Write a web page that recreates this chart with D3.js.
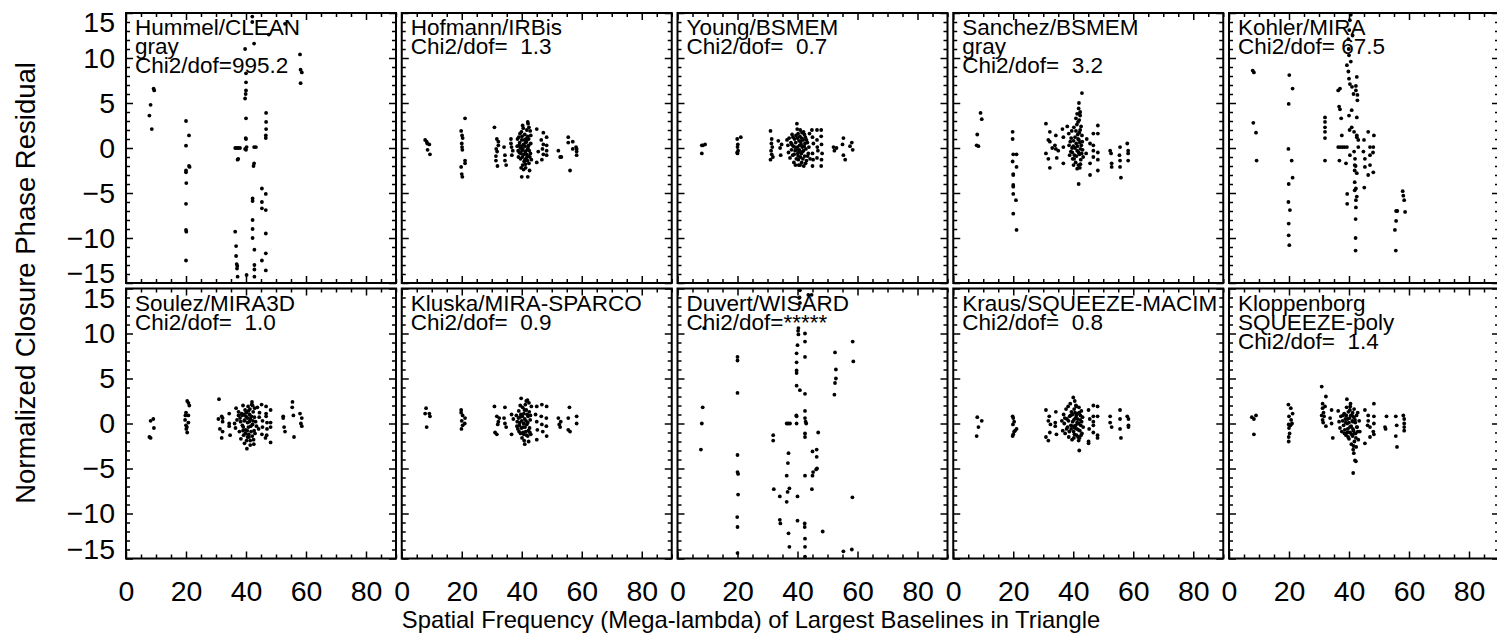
<!DOCTYPE html>
<html>
<head>
<meta charset="utf-8">
<script src="https://cdnjs.cloudflare.com/ajax/libs/d3/7.8.5/d3.min.js"></script>
<style>
  body { margin: 0; background: #fff; }
  svg { display: block; font-family: "Liberation Sans", Arial, Helvetica, sans-serif; }
  .lbl { white-space: pre; }
</style>
</head>
<body>
<svg width="1497" height="637"></svg>
<script>
// panel titles (one array entry per text line)
let panelLabels = [
    ['Hummel/CLEAN', 'gray', 'Chi2/dof=995.2'],
    ['Hofmann/IRBis', 'Chi2/dof=  1.3'],
    ['Young/BSMEM', 'Chi2/dof=  0.7'],
    ['Sanchez/BSMEM', 'gray', 'Chi2/dof=  3.2'],
    ['Kohler/MIRA', 'Chi2/dof= 67.5'],
    ['Soulez/MIRA3D', 'Chi2/dof=  1.0'],
    ['Kluska/MIRA-SPARCO', 'Chi2/dof=  0.9'],
    ['Duvert/WISARD', 'Chi2/dof=*****'],
    ['Kraus/SQUEEZE-MACIM', 'Chi2/dof=  0.8'],
    ['Kloppenborg', 'SQUEEZE-poly', 'Chi2/dof=  1.4']
];

let xTicks = [0, 20, 40, 60, 80];
let yTicks = [-15, -10, -5, 0, 5, 10, 15];

// [spatial frequency, normalized closure phase residual]
let hummelClean = [
    [8.2,4.8],[7.8,3.6],[8.6,2.1],[9.2,6.6],[9.4,6.4],
    [20,3.0],[21,1.4],[20,0.26],[21,-2.0],[21.2,-2.1],[20,-2.5],[20,-2.7],[20.1,-3.9],[20,-6.2],[20,-9.1],[20.1,-9.3],[20,-12.5],
    [36.4,0],[36.9,0],[37.4,0],[38,0],[37.4,-1.2],[37.2,-1.3],[36.4,-9.3],[36.7,-10.9],[36.7,-12],[36.9,-12.9],[37.1,-13.1],[37,-13.4],[37.2,-14.3],
    [39.7,11.0],[40,8.3],[40,7.3],[40,6.4],[39.9,6.0],[39.7,5.5],[40,3.3],[39.9,1.1],[40,1.0],[39.7,-0.1],[40,-0.2],[40.2,0.1],[40.2,-14.1],
    [42.1,14.6],[42.1,14.0],[42.7,11.6],[42.7,0.1],[43.3,0.1],[42.7,-1.7],[42.5,-2.0],[42.2,-5.6],[42.2,-5.9],[42.2,-8.0],[42.2,-9.0],[42.2,-10.0],[42.8,-11.3],[42.8,-13.0],[42.8,-13.5],[42.8,-14.3],
    [46.7,3.9],[46.7,2.9],[46.7,2.1],[46.6,1.4],[46.6,1.1],[45.3,-4.5],[46.6,-5.1],[45.3,-6.0],[46.6,-6.9],[45.3,-6.7],[46.6,-9.5],[46.6,-11.7],[45.3,-12.5],[46.6,-13.6],
    [47.6,12.6],[53,13.8],[58,10.4],[58.2,8.7],[58.6,8.4],[58.2,7.2]
];
let hofmannIrbis = [
    [7.8,0.9],[8.3,0.7],[9.2,0.4],[8.5,0.5],[8.6,-0.2],[9.4,-0.7],
    [21.1,3.3],[19.8,1.9],[20.1,1.4],[20.3,1.1],[20,0.5],[20.1,0.1],[20.2,-0.2],[21.1,-1.4],[21.1,-1.7],[19.8,-2.1],[20,-2.9],[20.2,-3.2],
    [30.9,2.3],[31.7,1.0],[32.2,0.7],[32.2,0.3],[31.5,-0.1],[31.8,-0.4],[31.4,-0.9],[31.4,-1.4],[31.9,-2.0],
    [34.1,0.1],[34.4,-0.8],[34.4,-1.4],[34.8,-1.9],
    [36.4,1.0],[36.4,0.5],[36.6,0.1],[37,-0.3],[36.7,-0.8],
    [39,1.2],[39.3,0.6],[39.5,0],[39.2,-0.5],[39.6,-1.2],[39.9,1.8],[40,0.9],[40.1,-0.3],[40.2,-1.0],[40.3,-1.9],[40.5,2.2],[40.6,0.4],[40.7,-0.7],[40.8,-1.5],
    [41,1.5],[41.1,0.2],[41.2,-0.4],[41.3,-2.2],[41.4,1.0],[41.5,-1.1],[41.6,0.7],[41.8,-0.2],[42,2.9],[42.1,2.7],[42,1.3],[42.2,-0.9],[42.3,0.3],[42.4,-1.7],
    [42.6,-2.5],[42.8,1.9],[42.9,-0.6],[43,0.5],[43.2,-1.3],[38.5,0.2],[38.8,-0.3],[40,-3.2],[42,-3.2],
    [38.6,1.0],[38.9,-1.0],[39.1,0.3],[39.4,1.6],[39.7,-0.6],[39.9,0.2],[40.1,1.3],[40.4,-0.1],[40.6,-2.4],[40.9,0.9],[41.1,-1.3],[41.3,0.6],
    [41.6,-0.7],[41.7,2.0],[41.9,-1.4],[42.1,0.0],[42.3,1.0],[42.5,-0.3],[42.7,-1.0],[43,1.4],[41.2,-1.8],[40.3,2.5],[39.8,-2.2],[42.4,2.3],
    [45,2.1],[47.2,1.7],[48.3,1.2],[46.5,0.9],[47.2,0.4],[48.3,0.3],[46.9,-0.1],[48.3,-0.3],[47.2,-0.7],[48.3,-0.8],[45,-1.6],[46.7,-1.3],[45.5,-0.4],
    [52.2,-0.3],[52.8,-1.0],[53.2,-1.0],
    [55.5,1.2],[55.5,0.6],[58.1,0.1],[58.3,-0.1],[58.3,-0.4],[58.3,-0.8],[56.1,-2.5],[57,0.7],[57,-0.1]
];
let youngBsmem = [
    [8.1,0.3],[9.2,0.4],[8.1,-0.6],[8.5,0.3],
    [19.9,1.0],[20.1,0.4],[20,0.1],[20.2,-0.3],[20,-0.6],[21.1,1.2],[19.9,-0.5],
    [31,1.9],[31.4,1.0],[31.3,0.5],[31.6,0.1],[31.2,-0.3],[31.4,-0.7],[31,-1.3],[31.8,-1.0],[33.6,0.8],[34.7,0.4],[34.4,-0.8],[34.2,0],
    [36.5,0.9],[36.8,0.3],[37,-0.5],[37.2,1.1],[37.5,-1.1],[37.8,0.6],[38,-0.2],[38.2,1.5],[38.4,-0.8],[38.6,0.2],[38.8,-1.6],[39,1.0],[39.2,-0.3],[39.4,0.6],
    [39.6,-1.2],[39.8,2.7],[39.9,2.1],[40,0.1],[40.1,-0.6],[40.2,1.6],[40.4,-1.9],[40.5,0.8],[40.6,-0.2],[40.8,1.3],[41,-1.0],[41.2,0.4],[41.4,-1.6],[41.5,1.7],
    [41.7,-0.4],[41.9,0.9],[42.1,-2.0],[42.2,0.2],[42.4,-0.9],[42.6,1.2],[42.8,-0.1],[43,-1.4],[43.3,0.6],[43.6,-0.6],[44,1.6],[44.2,-1.2],[39.3,-1.9],[40.9,-1.9],[42,1.8],
    [38.1,0.4],[38.5,1.2],[38.9,-0.7],[39.1,0.1],[39.5,1.4],[39.7,-0.2],[40,1.1],[40.3,-1.3],[40.5,-0.4],[40.7,0.3],[40.9,2.0],[41.1,0.7],
    [41.3,-0.6],[41.6,0.1],[41.8,-1.2],[42,-0.3],[42.3,1.5],[42.5,0.5],[42.7,-1.7],[43,0.9],[43.4,-0.9],[43.8,0.1],[40.2,-0.9],[41.3,1.1],
    [44.8,2.0],[46.5,2.0],[47.9,2.0],[45,1.2],[46.5,0.9],[47.9,1.3],[45.3,0.5],[46.6,0.1],[48,0.4],[45,-0.6],[46.8,-0.3],[48.2,-0.6],[45.2,-1.3],[46.5,-1.1],[48,-1.3],[45,-2.0],[47.9,-2.0],
    [52,0.1],[52.3,-0.3],[53,0],
    [55.3,1.1],[58.1,0.6],[55,0.4],[58.4,-0.2],[55.3,-0.8],[55.9,-1.3],[57.5,0.2]
];
let sanchezBsmem = [
    [9.1,3.9],[9.5,3.2],[8,1.5],[7.8,0.3],[8.4,0.2],
    [19.8,1.8],[19.8,1.0],[20,-0.7],[21.1,-0.7],[19.8,-1.5],[21.1,-2.1],[20,-2.9],[20,-3.0],[20,-4.1],[20,-4.3],[20,-5.1],[20.9,-5.8],[20,-7.3],[21.1,-9.1],
    [30.9,2.7],[32.2,1.8],[34.2,1.4],[31.7,0.9],[32.2,0.7],[33.9,0.3],[34.2,-0.1],[30.9,-0.6],[31.7,-1.2],[32.2,-2.2],[34.5,-1.1],[36.4,2.1],[36.7,1.2],[36.7,0.1],[36.7,-1.7],[35,-0.3],[33,0],
    [42.9,6.1],[41.8,4.4],[42.3,4.0],[42.3,3.6],[41.3,3.8],[38,2.4],[38.5,1.6],[39,0.7],[39.2,-0.4],[39.5,1.9],[39.8,-1.2],[40,0.2],[40.2,2.3],[40.4,-0.8],[40.6,1.2],
    [40.8,-1.6],[41,0.5],[41.2,2.6],[41.3,-0.3],[41.5,1.5],[41.7,-1.9],[41.9,0.9],[42,3.1],[42.1,-0.7],[42.3,2.0],[42.5,-1.3],[42.7,0.3],[42.9,1.4],[43.1,-0.2],
    [43.3,-1.0],[38.8,-0.8],[40.1,-1.9],[41.6,2.9],[42.2,-2.2],[41.8,-4.0],[41.3,-2.3],[39.6,0.0],[40.9,3.3],
    [39.3,1.1],[39.7,-0.5],[40.1,0.8],[40.3,-1.2],[40.6,0.0],[40.9,1.9],[41.1,-0.9],[41.4,0.2],[41.6,1.0],[41.8,-0.5],
    [42,1.7],[42.2,0.6],[42.4,-0.1],[42.6,2.4],[42.8,-0.6],[43,0.7],[41.9,5.0],[42.1,3.8],[38.6,0.3],[42.4,-1.8],
    [48.2,2.5],[46.7,1.6],[48.2,1.6],[45.6,0.5],[44.5,1.0],[46.7,-0.3],[48.2,-0.5],[46.7,-1.0],[48.2,-1.3],[45.6,-1.7],[45.6,-3.0],[48.2,-2.5],[46.7,0.3],[44.3,-0.6],
    [52.3,-0.3],[52.6,-0.6],[52.8,-1.7],[52.8,-2.1],[55.6,0.1],[55.4,-0.8],[55.6,-1.4],[55.6,-2.1],[55.9,-3.3],[58,0.5],[58.3,-0.3],[58.3,-0.6],[58.3,-1.4]
];
let kohlerMira = [
    [7.9,8.6],[8.3,8.4],[8.1,2.8],[9,1.7],[9.2,-1.4],
    [20.1,8.1],[21.2,6.6],[19.9,4.9],[19.8,-0.1],[20.9,-1.4],[21.2,-3.3],[19.9,-4.0],[19.8,-6.0],[20.3,-6.9],[19.9,-8.4],[19.9,-9.7],[20.1,-10.8],
    [32,3.4],[32,2.9],[32,2.3],[32,1.8],[32,1.1],[32,-1.4],
    [37,6.6],[36.4,6.4],[36.7,4.6],[37,4.3],[37.4,3.3],[37.6,1.4],[36.4,0.1],[37.1,0.1],[37.8,0.1],[38.5,0.1],[39.3,0.1],[36.8,-1.4],
    [40.3,14.2],[40.1,13.1],[39.8,12.1],[39.9,11.0],[40,10.3],[39.3,9.2],[39.8,8.5],[40,7.7],[40.3,7.1],[41,6.8],[42.3,6.4],[41.5,6.0],[42.6,7.9],[42.8,5.9],
    [42.8,5.3],[40.9,4.2],[40,3.6],[42.6,3.4],[40.9,2.3],[41.7,1.8],[42.6,1.4],[42.6,1.2],[43.1,0.9],[43.1,0.1],[41.7,-0.4],[40.3,-0.8],[39,-1.7],[41.9,-1.9],
    [41.9,-2.5],[42.6,-2.8],[41.9,-3.8],[42.3,-4.5],[41.9,-4.7],[39.4,-5.1],[42.6,-5.4],[42.3,-5.8],[39.4,-6.2],[42.3,-6.6],[42.2,-7.9],[42.2,-10.0],[42.2,-11.4],
    [45.1,-4.4],[40.6,14.8],[41.2,12.5],[40.6,9.6],[42.3,6.9],[42.2,-2.0],[42,-1.2],[40.2,2.0],
    [46.4,1.8],[48.3,1.4],[45,0.9],[47,0.1],[48.1,0.1],[44.8,-0.4],[47,-0.8],[45.3,-1.2],[47,-1.9],[45.3,-2.1],[48.1,-2.7],[46.4,-3.0],[48,-0.5],
    [57.9,-4.8],[58.1,-5.3],[58.4,-5.8],[55.7,-7.0],[56.1,-7.0],[58.7,-7.1],[55.7,-8.1],[55.3,-9.1],[55.6,-11.4]
];
let soulezMira3d = [
    [7.8,-1.5],[8.2,-1.6],[8.2,0.3],[9.1,0.5],[9.3,-0.5],
    [20.4,2.5],[20.8,2.3],[21.1,2.0],[20,1.2],[20.8,0.9],[19.7,0.4],[20.8,0.1],[20,-0.2],[20.3,-0.4],[20.1,-0.6],[20.4,-1.0],[19.8,0.9],
    [31,2.7],[31.9,0.8],[32.2,0.6],[32.2,0.2],[31.3,-0.6],[32.2,-0.9],[31.9,-1.6],[34.4,1.1],[34.4,0],[34.4,-0.3],[34.7,-1.3],[30.8,0.5],
    [36.7,1.7],[37.5,1.3],[37.5,0.9],[36.2,0],[36.5,-0.5],[37,0.4],[37.8,-0.9],[38,0.6],[38.3,-1.7],[38.5,1.1],[38.8,-0.2],[39,2.0],[39.2,-1.3],[39.4,0.3],
    [39.5,-2.2],[39.7,1.5],[39.9,-0.7],[40,0.8],[40.2,-1.9],[40.3,-2.8],[40.5,0.1],[40.7,1.9],[40.8,-0.4],[41,-1.5],[41.2,1.0],[41.4,-2.4],[41.5,0.5],[41.7,-0.9],
    [41.9,2.1],[42,2.4],[42.2,-0.1],[42.4,1.3],[42.5,-1.8],[42.6,-2.3],[42.8,0.7],[43,-1.1],[43.2,0.2],[43.8,1.8],[44.4,0.7],[44.2,-0.6],[44.5,1.2],[43.5,-0.3],[39,-0.8],[40.8,1.4],
    [38.2,0.2],[38.7,0.9],[39.1,-0.4],[39.3,1.0],[39.6,0.4],[39.8,-1.1],[40.1,1.2],[40.4,-0.8],[40.6,0.6],[40.9,-1.2],[41.1,0.2],
    [41.3,1.6],[41.6,-0.3],[41.8,0.8],[42.1,-1.4],[42.3,0.3],[42.7,-0.8],[42.9,1.7],[41.4,-1.9],[40.5,-1.5],[42.2,2.0],
    [45.2,2.1],[46.7,1.9],[48.2,1.5],[46.7,1.1],[46.7,0.8],[45.5,0.3],[47,0.1],[48.2,0.1],[45.5,-0.4],[47,-0.6],[48.2,-0.4],[46.9,-1.3],[45.3,-1.2],[48.2,-2.1],[46.5,-1.6],
    [52.4,0.8],[52.4,0.6],[52.7,-0.4],[53,-0.9],
    [55.5,2.4],[55.4,1.8],[55.8,0.9],[56,-1.5],[58,1.1],[58.6,0.6],[58.3,0],[58.6,-0.3]
];
let kluskaMiraSparco = [
    [8.1,1.7],[7.8,1.1],[9.2,1.1],[9.4,0.8],[8.3,-0.4],
    [19.8,1.5],[19.8,1.2],[20.3,0.9],[21.1,0.6],[20,0.3],[21,0],[20.3,-0.2],[19.9,-0.6],
    [30.9,1.9],[31.7,0.8],[32.5,0.6],[32.2,0.2],[32,-0.1],[31.1,-1.0],[31.7,-1.2],
    [34.4,1.8],[34.1,0.6],[34.4,0],[34.8,-0.4],[36.6,1.0],[37.2,0.5],[36.6,-1.2],
    [38.2,0.9],[38.5,0.2],[38.7,-0.6],[39,1.4],[39.2,-0.2],[39.4,0.7],[39.6,-1.1],[39.8,2.8],[40,0.3],[40.1,-1.6],[40.3,1.8],[40.5,-0.4],[40.7,1.1],[40.8,-1.9],
    [41,0.5],[41.2,2.1],[41.3,-0.9],[41.5,1.5],[41.7,-0.1],[41.9,2.6],[42,-1.4],[42.1,0.8],[42.3,-2.0],[42.5,1.3],[42.6,-0.5],[42.8,0.4],[43,-1.2],[43.2,1.9],[39.5,2.0],[41,-2.3],
    [38.4,-0.3],[38.9,0.6],[39.1,-0.9],[39.3,0.1],[39.7,1.0],[39.9,-0.5],[40.2,0.8],[40.4,-1.0],[40.6,0.0],[40.9,1.5],[41.1,-0.4],
    [41.4,0.3],[41.6,-1.3],[41.8,1.0],[42,0.1],[42.2,-0.8],[42.4,2.3],[42.7,-1.0],[42.9,0.9],[41.5,2.5],[40.7,-1.2],
    [46.7,2.1],[45,1.9],[48.3,1.9],[44.6,1.0],[46.5,0.8],[48.2,0.6],[45,0.2],[46.7,-0.1],[48.2,-0.3],[45.2,-0.7],[47,-0.9],[48.3,-1.4],[45,-1.8],
    [52.2,0.6],[52.5,-0.1],[52.8,-0.4],[53,0.2],
    [55.9,1.8],[55.5,0.6],[55.5,-0.7],[56.1,-0.9],[58.3,0.8],[58.3,0]
];
let duvertWisard = [
    [8.4,1.8],[8.1,0],[7.8,-2.9],[8.9,10.6],
    [20,7.4],[20,7.0],[20,3.4],[20,-3.5],[20,-5.4],[20.2,-5.6],[20.2,-7.9],[19.9,-10.4],[20,-11.5],[20,-14.4],
    [31.9,-1.3],[31.9,-1.9],[32.1,-7.3],[34.1,-8.1],[34.1,-10.7],[34.3,-11.1],
    [36.4,0],[36.9,0],[37.5,0],[37,-3.3],[36.8,-4.4],[36.4,-5.8],[37.3,-7.2],[36.7,-7.6],[36.4,-8.7],[37,-12.2],[37.3,-13.7],
    [40.8,14.8],[40.7,14.0],[40.8,13.4],[40.3,10.6],[40.2,10.3],[40.3,9.9],[40,8.7],[39.7,7.8],[39.7,6.8],[39.7,5.9],[39.7,5.6],[39.7,4.2],[40.8,3.7],
    [39.6,0.9],[39.7,0.8],[39.7,0],[40,-8.1],[40,-10.8],
    [42.5,10.0],[42.5,9.1],[42.5,7.4],[42.5,3.3],[42.5,1.4],[42.5,0.6],[42.7,0.2],[42.9,0],[42.5,-1.1],[42.5,-1.5],[42.5,-5.8],[42.4,-11.1],[42.4,-11.5],
    [42.5,-12.8],[42.5,-13.7],[42.5,-14.8],
    [45,-3.1],[46.4,-2.9],[46.4,-3.7],[46.2,-5.1],[45.2,-5.4],[46.5,-5.0],[45,-5.8],[44.8,-7.3],[46.9,-1.0],
    [43.6,14.3],[44.7,14.3],
    [52.5,7.9],[52.8,6.0],[52.8,5.0],[52.5,4.5],[52.3,3.2],
    [58.4,9.1],[58.6,6.9],[58.3,-8.2],[48.4,-12.0],[55.3,-14.2],[58.1,-14.0]
];
let krausSqueezeMacim = [
    [8,0.7],[9.5,0.3],[8.4,-0.4],[7.8,-1.4],
    [19.8,0.8],[20,0.6],[20.3,0.2],[19.9,-0.1],[21.1,-0.6],[20.3,-0.9],[20,-1.2],[19.8,-1.4],[20.6,-0.8],
    [30.9,1.5],[32,0.8],[31.7,0.3],[32.4,-0.1],[32.2,-1.0],[30.9,-1.5],[31.7,-1.9],[34.2,1.3],[34,0.1],[34,-0.3],[34.4,-1.2],
    [36.2,0.3],[36.5,-0.8],[36.8,1.0],[37,0],[37.3,-1.1],[37.6,1.6],[37.9,0.5],[38.1,-0.4],[38.3,1.9],[38.5,-1.5],[38.8,0.8],[39,2.2],[39.2,-0.2],[39.4,1.3],
    [39.6,-1.8],[39.8,0.2],[40,2.9],[40.1,-0.9],[40.3,1.6],[40.5,-0.5],[40.7,0.6],[40.9,2.0],[41.1,-1.3],[41.3,0.1],[41.5,1.1],[41.7,-0.7],[41.9,1.8],[42.1,-1.6],
    [42.3,0.4],[42.5,-0.2],[42.7,1.4],[42.9,-1.1],[43.1,0.7],[43.3,-0.4],[42,-3.0],[40.2,-1.6],[41,1.9],
    [37.2,0.6],[37.8,-0.6],[38.4,0.3],[38.7,-0.9],[39.1,0.9],[39.3,-0.6],[39.7,1.0],[39.9,-0.3],[40.2,0.4],[40.4,-1.2],[40.6,1.2],[40.8,-0.2],
    [41,0.9],[41.2,-0.6],[41.4,0.5],[41.6,-1.5],[41.8,0.0],[42,1.2],[42.2,-0.8],[42.4,0.9],[42.6,-1.3],[42.8,0.2],[41.8,-1.9],[40.5,2.5],
    [46.7,2.0],[48.1,1.9],[45.1,1.5],[48.1,0.8],[46.7,0.8],[46.7,0.2],[46.7,-0.2],[46.7,-1.0],[48.1,-1.3],[48.1,-1.6],[45.1,-2.0],[45.1,-2.2],[45.5,0.5],[45.3,-0.6],
    [52.3,0.8],[52.3,0.1],[52.8,-0.4],[55.6,1.5],[55.6,0.5],[55.6,-0.6],[55.9,-1.6],[58,0.8],[58.4,0.5],[58.4,-0.2],[58.4,-0.4]
];
let kloppenborgSqueezePoly = [
    [7.6,0.7],[8.3,0.5],[9,0.9],[8.3,-1.2],
    [19.8,2.1],[20.6,1.7],[21.2,1.1],[20,0.8],[20.7,0.4],[19.9,-0.1],[20.5,-0.2],[20,-0.5],[20.2,-1.1],[19.9,-1.5],[19.9,-2.0],[21,0],
    [30.9,4.1],[32.3,3.0],[31.2,2.2],[32,1.9],[31.2,1.7],[30.9,0.9],[31.7,0.8],[31.2,0.4],[31.4,0.1],[32.3,-0.3],[31.5,1.2],
    [34.2,1.5],[33.7,0.6],[34.2,0],[34.6,-1.6],[36.4,1.4],
    [36.7,0.2],[37,-0.5],[37.3,0.8],[37.6,-0.9],[37.9,0.3],[38.2,-0.2],[38.4,1.1],[38.6,-0.7],[38.8,0.5],[39,-1.3],[39.2,1.8],[39.3,2.7],[39.4,0.0],[39.6,-0.6],
    [39.8,1.3],[40,-1.7],[40.2,0.6],[40.4,-1.0],[40.5,2.2],[40.7,-0.3],[40.8,-2.3],[41,0.9],[41.2,-1.4],[41.3,0.2],[41.5,-0.8],[41.7,1.6],[41.8,-2.0],[42,0.4],
    [42.2,-1.1],[42.4,-2.6],[42.5,0.9],[42.7,-0.4],[42.9,1.2],[43.1,-1.8],[43.4,0.3],[43.6,-0.9],[41.4,-2.9],[41.6,-3.3],[42,-4.1],[42.3,-4.2],[41.4,-5.5],[40.3,1.5],[39.5,-1.0],
    [38,0.9],[38.5,-1.1],[38.9,0.1],[39.1,0.9],[39.5,0.5],[39.7,-1.5],[40,0.1],[40.3,-0.4],[40.6,0.9],[40.9,-1.2],[41.1,0.3],
    [41.3,-0.6],[41.6,0.7],[41.8,-1.1],[42.1,0.1],[42.3,-1.6],[42.6,-0.4],[42.9,-0.9],[41.5,-2.5],[40.4,1.9],[41.2,1.2],
    [45.3,1.5],[48.3,2.2],[46.4,0.9],[48.3,0.8],[46.4,0.3],[48.3,0],[47,-0.4],[48.1,-0.9],[47,-1.5],[45.3,-2.2],[48.3,-1.2],[46.2,-0.2],
    [52.5,0.8],[52,-0.4],[52.2,-0.6],[55.6,0.8],[55.9,-0.2],[55.6,-1.4],[56,-2.6],[58.1,0.9],[58.4,0.5],[58.4,0],[58.4,-0.4],[58.4,-0.8]
];

let panelData = [hummelClean, hofmannIrbis, youngBsmem, sanchezBsmem, kohlerMira,
    soulezMira3d, kluskaMiraSparco, duvertWisard, krausSqueezeMacim, kloppenborgSqueezePoly];

let left0 = 126, colStep = 275.75, rowTops = [13, 288.5];
let panelW = 270, panelH = 270;

let x = d3.scaleLinear().domain([0, 90]).range([0, panelW]);
let y = d3.scaleLinear().domain([-15, 15]).range([panelH, 0]);

let minorX = d3.range(0, 91, 5).filter(function(v) { return v % 20 !== 0; });
let minorY = d3.range(-15, 16, 1).filter(function(v) { return v % 5 !== 0; });

let svg = d3.select('svg');

function styleAxis(g) {
    g.select('.domain').remove();
    g.selectAll('line').attr('stroke', '#000').attr('stroke-width', 1.5);
    g.selectAll('text').attr('fill', '#000').style('font-family', null);
}

function drawPanel(i) {
    let col = i % 5, row = Math.floor(i / 5);
    let g = svg.append('g')
        .attr('transform', 'translate(' + (left0 + col * colStep) + ',' + rowTops[row] + ')');

    // minor ticks on all four sides
    g.append('g').attr('transform', 'translate(0,' + panelH + ')')
        .call(d3.axisBottom(x).tickValues(minorX).tickSizeInner(-4).tickSizeOuter(0).tickFormat(''))
        .call(styleAxis);
    g.append('g')
        .call(d3.axisTop(x).tickValues(minorX).tickSizeInner(-4).tickSizeOuter(0).tickFormat(''))
        .call(styleAxis);
    g.append('g')
        .call(d3.axisLeft(y).tickValues(minorY).tickSizeInner(-4).tickSizeOuter(0).tickFormat(''))
        .call(styleAxis);
    g.append('g').attr('transform', 'translate(' + panelW + ',0)')
        .call(d3.axisRight(y).tickValues(minorY).tickSizeInner(-4).tickSizeOuter(0).tickFormat(''))
        .call(styleAxis);

    // major ticks
    let bottom = d3.axisBottom(x).tickValues(xTicks).tickSizeInner(-7).tickSizeOuter(0).tickPadding(22);
    if (row === 0) bottom.tickFormat('');
    g.append('g').attr('transform', 'translate(0,' + panelH + ')')
        .call(bottom)
        .call(styleAxis)
        .selectAll('text').attr('font-size', 28.5);
    g.append('g')
        .call(d3.axisTop(x).tickValues(xTicks).tickSizeInner(-7).tickSizeOuter(0).tickFormat(''))
        .call(styleAxis);

    let leftAxis = d3.axisLeft(y).tickValues(yTicks).tickSizeInner(-7).tickSizeOuter(0).tickPadding(11);
    if (col !== 0) leftAxis.tickFormat('');
    g.append('g')
        .call(leftAxis)
        .call(styleAxis)
        .selectAll('text')
        .attr('font-size', 28.5)
        .attr('y', function(d) { return d === 15 ? 9.5 : d === -15 ? -9.5 : 0; });
    g.append('g').attr('transform', 'translate(' + panelW + ',0)')
        .call(d3.axisRight(y).tickValues(yTicks).tickSizeInner(-7).tickSizeOuter(0).tickFormat(''))
        .call(styleAxis);

    // points
    g.append('g')
        .selectAll('circle')
        .data(panelData[i])
        .join('circle')
        .attr('cx', function(d) { return x(d[0]); })
        .attr('cy', function(d) { return y(d[1]); })
        .attr('r', 1.9)
        .attr('fill', '#000');

    // frame
    g.append('rect')
        .attr('width', panelW).attr('height', panelH)
        .attr('fill', 'none').attr('stroke', '#000').attr('stroke-width', 2);

    // label lines
    g.append('g')
        .selectAll('text')
        .data(panelLabels[i])
        .join('text')
        .attr('class', 'lbl')
        .attr('x', 9)
        .attr('y', function(d, k) { return 22 + k * 19; })
        .attr('font-size', 22.5)
        .attr('fill', '#000')
        .text(function(d) { return d; });
}

for (let i = 0; i < panelData.length; i++) drawPanel(i);

svg.append('text')
    .attr('transform', 'translate(35,283) rotate(-90)')
    .attr('text-anchor', 'middle')
    .attr('font-size', 27.5)
    .text('Normalized Closure Phase Residual');

svg.append('text')
    .attr('x', 751)
    .attr('y', 628)
    .attr('text-anchor', 'middle')
    .attr('font-size', 23.8)
    .text('Spatial Frequency (Mega-lambda) of Largest Baselines in Triangle');
</script>
</body>
</html>
